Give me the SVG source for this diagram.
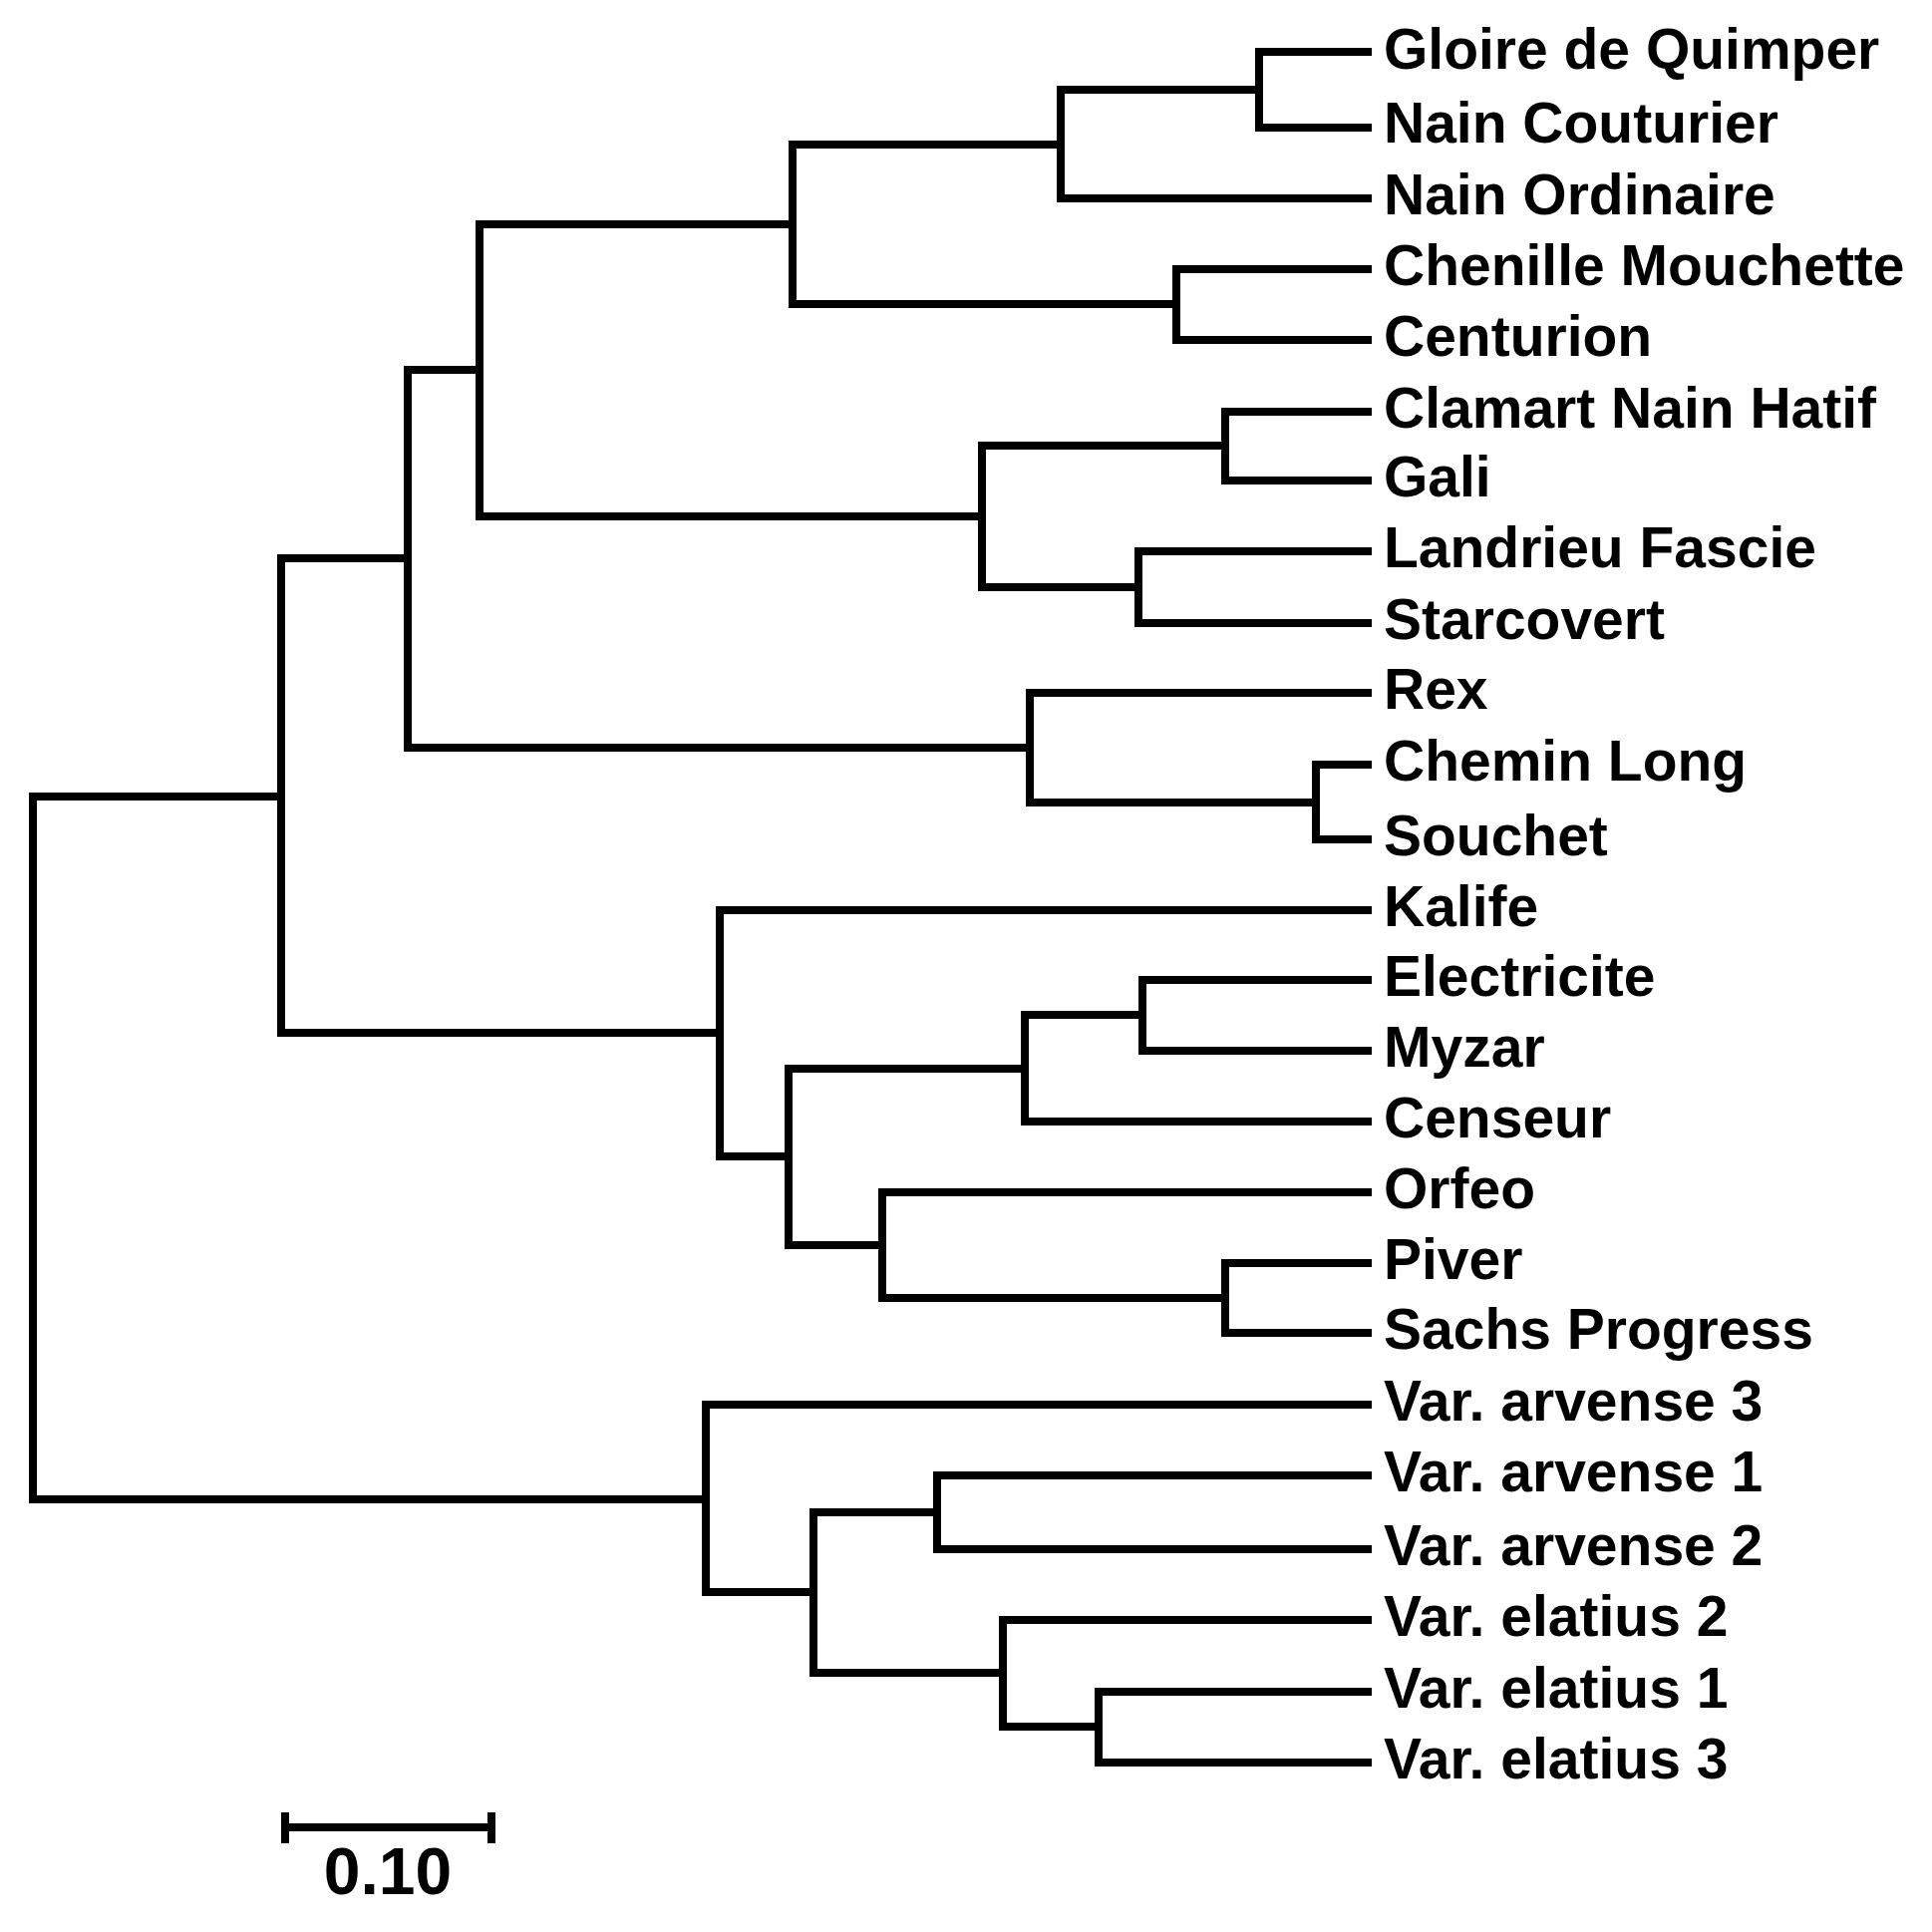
<svg xmlns="http://www.w3.org/2000/svg" width="1938" height="1938" viewBox="0 0 1938 1938">
<style>
.e{fill:none;stroke:#000;stroke-width:8;stroke-linejoin:miter;stroke-linecap:square}
.t{font-family:"Liberation Sans",Arial,sans-serif;font-weight:bold;font-size:57px;fill:#000}
.s{font-family:"Liberation Sans",Arial,sans-serif;font-weight:bold;font-size:66px;fill:#000}
</style>
<rect width="1938" height="1938" fill="#fff"/>
<g id="connectors">
<path class="e" d="M1372 52H1263V128H1372"/>
<path class="e" d="M1263 90H1064V199H1372"/>
<path class="e" d="M1372 270H1180V341H1372"/>
<path class="e" d="M1064 145H795V305H1180"/>
<path class="e" d="M1372 413H1229V482H1372"/>
<path class="e" d="M1372 553H1142V625H1372"/>
<path class="e" d="M1229 447H985V589H1142"/>
<path class="e" d="M795 225H481V518H985"/>
<path class="e" d="M1372 767H1320V842H1372"/>
<path class="e" d="M1372 695H1033V805H1320"/>
<path class="e" d="M481 371H409V750H1033"/>
<path class="e" d="M1372 983H1146V1054H1372"/>
<path class="e" d="M1146 1018H1028V1125H1372"/>
<path class="e" d="M1372 1267H1229V1337H1372"/>
<path class="e" d="M1372 1196H885V1302H1229"/>
<path class="e" d="M1028 1072H791V1249H885"/>
<path class="e" d="M1372 913H722V1160H791"/>
<path class="e" d="M409 560H282V1036H722"/>
<path class="e" d="M1372 1480H940V1554H1372"/>
<path class="e" d="M1372 1697H1102V1768H1372"/>
<path class="e" d="M1372 1625H1006V1732H1102"/>
<path class="e" d="M940 1517H816V1678H1006"/>
<path class="e" d="M1372 1409H708V1597H816"/>
<path class="e" d="M282 799H33V1504H708"/>
</g>
<g id="leaves">
<g id="n1"><text class="t" x="1388" y="69">Gloire de Quimper</text></g>
<g id="n2"><text class="t" x="1388" y="143">Nain Couturier</text></g>
<g id="n3"><text class="t" x="1388" y="215">Nain Ordinaire</text></g>
<g id="n4"><text class="t" x="1388" y="286">Chenille Mouchette</text></g>
<g id="n5"><text class="t" x="1388" y="357">Centurion</text></g>
<g id="n6"><text class="t" x="1388" y="429">Clamart Nain Hatif</text></g>
<g id="n7"><text class="t" x="1388" y="498">Gali</text></g>
<g id="n8"><text class="t" x="1388" y="569">Landrieu Fascie</text></g>
<g id="n9"><text class="t" x="1388" y="641">Starcovert</text></g>
<g id="n10"><text class="t" x="1388" y="711">Rex</text></g>
<g id="n11"><text class="t" x="1388" y="783">Chemin Long</text></g>
<g id="n12"><text class="t" x="1388" y="858">Souchet</text></g>
<g id="n13"><text class="t" x="1388" y="929">Kalife</text></g>
<g id="n14"><text class="t" x="1388" y="999">Electricite</text></g>
<g id="n15"><text class="t" x="1388" y="1070">Myzar</text></g>
<g id="n16"><text class="t" x="1388" y="1141">Censeur</text></g>
<g id="n17"><text class="t" x="1388" y="1212">Orfeo</text></g>
<g id="n18"><text class="t" x="1388" y="1283">Piver</text></g>
<g id="n19"><text class="t" x="1388" y="1353">Sachs Progress</text></g>
<g id="n20"><text class="t" x="1388" y="1425">Var. arvense 3</text></g>
<g id="n21"><text class="t" x="1388" y="1496">Var. arvense 1</text></g>
<g id="n22"><text class="t" x="1388" y="1570">Var. arvense 2</text></g>
<g id="n23"><text class="t" x="1388" y="1641">Var. elatius 2</text></g>
<g id="n24"><text class="t" x="1388" y="1713">Var. elatius 1</text></g>
<g id="n25"><text class="t" x="1388" y="1784">Var. elatius 3</text></g>
</g>
<g id="scale">
<path class="e" d="M286 1833H493M286 1818V1849M493 1818V1849" style="stroke-linecap:butt"/>
<text class="s" x="389" y="1900" text-anchor="middle">0.10</text>
</g>
</svg>
